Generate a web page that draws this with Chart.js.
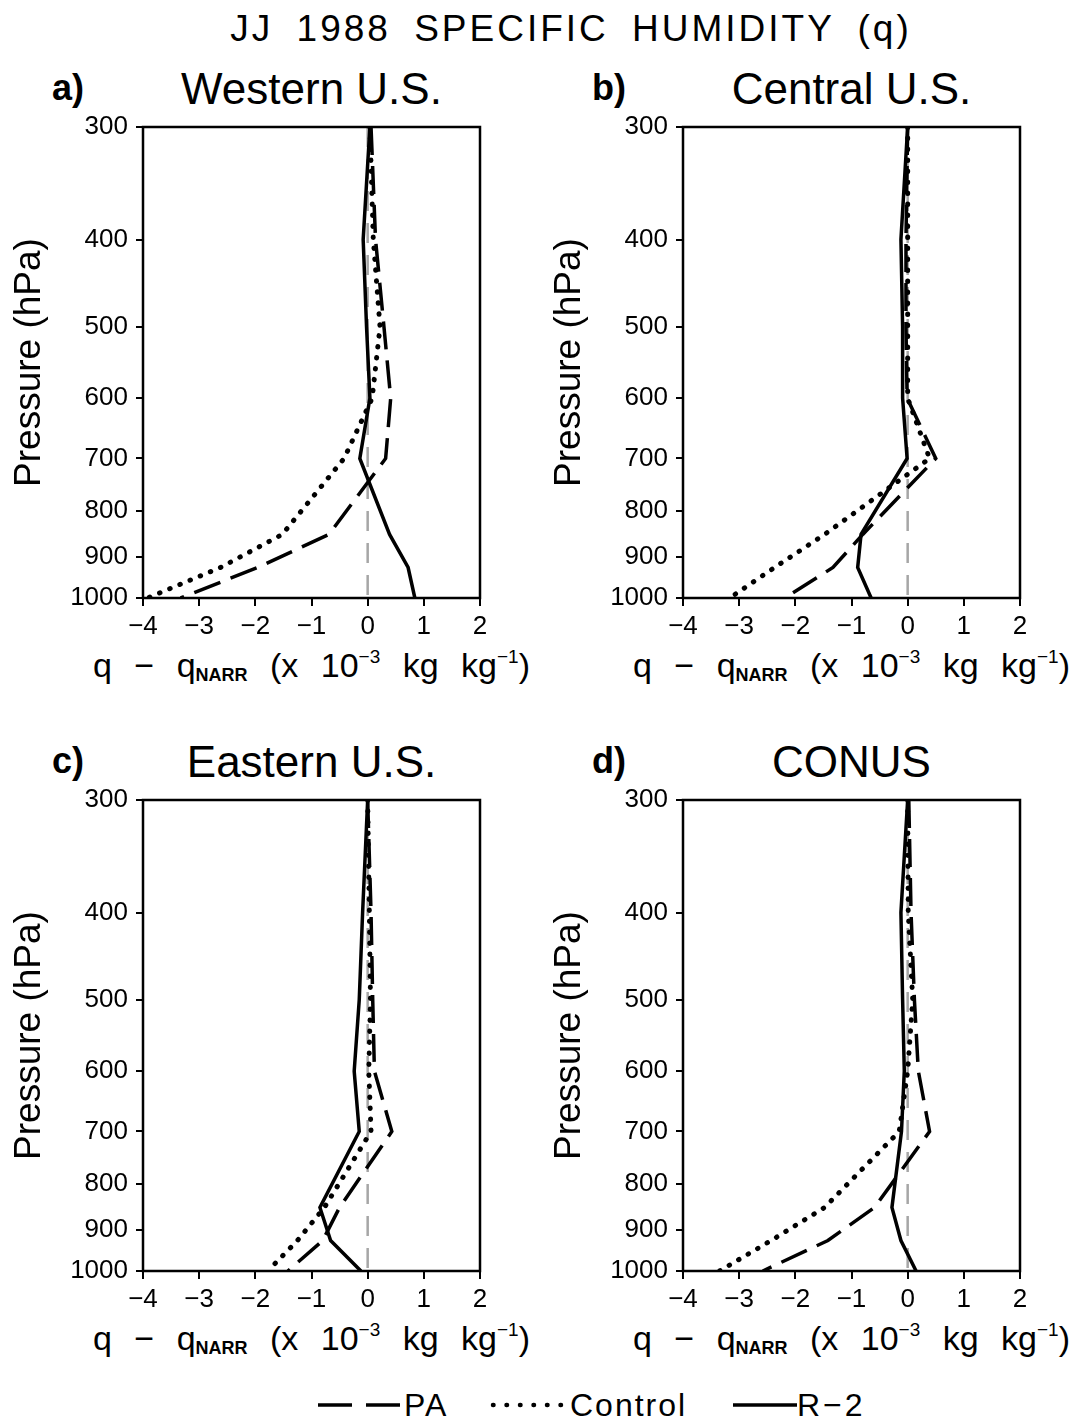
<!DOCTYPE html>
<html>
<head>
<meta charset="utf-8">
<script src="https://cdn.jsdelivr.net/npm/chart.js@4.4.1/dist/chart.umd.min.js"></script>
<style>
  body { margin: 0; background: #fff; width: 1071px; height: 1421px; position: relative; overflow: hidden;
         font-family: "Liberation Sans", sans-serif; color: #000; }
  .t { position: absolute; white-space: nowrap; line-height: 1; transform: translate(-50%, -50%); }
  .lab { position: absolute; white-space: nowrap; line-height: 1; transform: translateY(-50%); font-size: 36px; font-weight: bold; }
  canvas { position: absolute; }
  .xt { font-size: 34px; word-spacing: 13px; }
  .xt sub { font-size: 18px; font-weight: bold; vertical-align: -4px; }
  .xt sup { font-size: 19px; vertical-align: 14px; }
  .lg { position: absolute; top: 1405px; transform: translateY(-50%); font-size: 32px; letter-spacing: 2px;
        line-height: 1; white-space: nowrap; }
  .lgl { position: absolute; top: 1400px; }
</style>
</head>
<body>

<div class="t" style="left:571px; top:28px; font-size:37px; letter-spacing:3px; word-spacing:10px;">JJ 1988 SPECIFIC HUMIDITY (q)</div>

<svg class="lgl" style="left:318px" width="84" height="10"><line x1="0" y1="5" x2="84" y2="5" stroke="#000" stroke-width="3.5" stroke-dasharray="34,14"/></svg>
<div class="lg" style="left:404px">PA</div>
<svg class="lgl" style="left:490px" width="78" height="10"><line x1="3" y1="5" x2="76" y2="5" stroke="#000" stroke-width="4.5" stroke-linecap="round" stroke-dasharray="0.5,13"/></svg>
<div class="lg" style="left:570px">Control</div>
<svg class="lgl" style="left:733px" width="64" height="10"><line x1="0" y1="5" x2="64" y2="5" stroke="#000" stroke-width="3.5"/></svg>
<div class="lg" style="left:797px; letter-spacing:3px">R&minus;2</div>

<script>
// pressure levels (hPa) and tick labels
const levels = [300, 400, 500, 600, 700, 850, 925, 1000];
const yTicks = [300, 400, 500, 600, 700, 800, 900, 1000];
const xTicks = [-4, -3, -2, -1, 0, 1, 2];

// q - q_NARR (x 10^-3 kg/kg)
const westPA  = [0.06, 0.14, 0.29, 0.41, 0.32, -0.69, -1.96, -3.33];
const westCtl = [0.04, 0.10, 0.22, 0.08, -0.42, -1.52, -2.62, -3.92];
const westR2  = [0.04, -0.08, -0.02, 0.04, -0.14, 0.39, 0.72, 0.84];

const centPA  = [0.00, -0.03, -0.03, -0.01, 0.50, -0.80, -1.33, -2.19];
const centCtl = [0.00, 0.00, 0.00, 0.00, 0.39, -1.48, -2.37, -3.17];
const centR2  = [0.00, -0.12, -0.09, -0.09, -0.01, -0.83, -0.89, -0.65];

const eastPA  = [0.00, 0.06, 0.09, 0.12, 0.43, -0.50, -0.80, -1.42];
const eastCtl = [0.00, 0.03, 0.05, 0.02, 0.06, -0.77, -1.25, -1.78];
const eastR2  = [0.00, -0.09, -0.15, -0.24, -0.15, -0.85, -0.66, -0.12];

const conusPA  = [0.02, 0.06, 0.12, 0.19, 0.39, -0.59, -1.42, -2.58];
const conusCtl = [0.00, 0.01, 0.09, 0.00, -0.15, -1.48, -2.43, -3.35];
const conusR2  = [0.00, -0.12, -0.09, -0.06, -0.11, -0.28, -0.12, 0.15];

const panels = [
  { tag: 'a)', name: 'Western U.S.', left: 0,   top: 127, pa: westPA,  ctl: westCtl,  r2: westR2 },
  { tag: 'b)', name: 'Central U.S.', left: 540, top: 127, pa: centPA,  ctl: centCtl,  r2: centR2 },
  { tag: 'c)', name: 'Eastern U.S.', left: 0,   top: 800, pa: eastPA,  ctl: eastCtl,  r2: eastR2 },
  { tag: 'd)', name: 'CONUS',        left: 540, top: 800, pa: conusPA, ctl: conusCtl, r2: conusR2 }
];

const AXW = 143, PW = 337, PH = 471, PADT = 20, PADR = 20, XAH = 60;

const boxPlugin = {
  id: 'box',
  afterDraw(chart) {
    const { ctx, chartArea: a } = chart;
    ctx.save();
    ctx.strokeStyle = '#000';
    ctx.lineWidth = 2.5;
    ctx.strokeRect(a.left, a.top, a.right - a.left, a.bottom - a.top);
    ctx.restore();
  }
};

// drop the label overhang chart.js reserves, so the plot box lands where the padding says
function noPad(s) { s.paddingTop = s.paddingBottom = s.paddingLeft = s.paddingRight = 0; }

const pts = vals => vals.map((v, i) => ({ x: v, y: levels[i] }));
const tickFont = { family: '"Liberation Sans", sans-serif', size: 26 };

function addText(cls, txt, x, y, size) {
  const d = document.createElement('div');
  d.className = cls;
  d.innerHTML = txt;
  d.style.left = x + 'px';
  d.style.top = y + 'px';
  if (size) d.style.fontSize = size + 'px';
  document.body.appendChild(d);
}

panels.forEach(p => {
  const cx = p.left + AXW + PW / 2;
  addText('lab', p.tag, p.left + 52, p.top - 39);
  addText('t', p.name, cx, p.top - 38, 44);
  addText('t xt', 'q &minus; q<sub>NARR</sub> (x 10<sup>&minus;3</sup> kg kg<sup>&minus;1</sup>)', cx, p.top + PH + 67);

  const cv = document.createElement('canvas');
  cv.width = AXW + PW + PADR;
  cv.height = PADT + PH + XAH;
  cv.style.left = p.left + 'px';
  cv.style.top = (p.top - PADT) + 'px';
  document.body.appendChild(cv);

  new Chart(cv.getContext('2d'), {
    type: 'line',
    data: {
      datasets: [
        { label: 'PA', data: pts(p.pa), borderColor: '#000', borderWidth: 3.5, borderDash: [28, 11], pointRadius: 0, fill: false },
        { label: 'Control', data: pts(p.ctl), borderColor: '#000', borderWidth: 5, borderDash: [0.5, 10.5], borderCapStyle: 'round', pointRadius: 0, fill: false },
        { label: 'R-2', data: pts(p.r2), borderColor: '#000', borderWidth: 3.5, pointRadius: 0, fill: false },
        { label: 'zero', data: [{ x: 0, y: 300 }, { x: 0, y: 1000 }], borderColor: '#a6a6a6', borderWidth: 2.5, borderDash: [20, 12], pointRadius: 0, fill: false }
      ]
    },
    options: {
      responsive: false,
      animation: false,
      indexAxis: 'y',
      layout: { padding: { top: PADT, right: PADR, left: 0, bottom: 0 } },
      plugins: { legend: { display: false }, tooltip: { enabled: false } },
      scales: {
        x: {
          type: 'linear', position: 'bottom', min: -4, max: 2,
          afterFit(s) { s.height = XAH; noPad(s); },
          afterBuildTicks(s) { s.ticks = xTicks.map(v => ({ value: v })); },
          border: { display: false },
          grid: { drawOnChartArea: false, drawTicks: true, tickLength: 8, color: '#000', lineWidth: 2 },
          ticks: { color: '#000', font: tickFont, padding: 5, autoSkip: false, maxRotation: 0,
                   callback: v => String(v).replace('-', '\u2212') }
        },
        y: {
          type: 'logarithmic', position: 'left', min: 300, max: 1000, reverse: true,
          afterFit(s) { s.width = AXW; noPad(s); },
          afterBuildTicks(s) { s.ticks = yTicks.map(v => ({ value: v })); },
          border: { display: false },
          grid: { drawOnChartArea: false, drawTicks: true, tickLength: 7, color: '#000', lineWidth: 2 },
          ticks: { color: '#000', font: tickFont, padding: 8, autoSkip: false, callback: v => String(v) },
          title: { display: true, text: 'Pressure (hPa)', color: '#000',
                   font: { family: '"Liberation Sans", sans-serif', size: 37 }, padding: { top: 8, bottom: 0 } }
        }
      }
    },
    plugins: [boxPlugin]
  });
});
</script>
</body>
</html>
